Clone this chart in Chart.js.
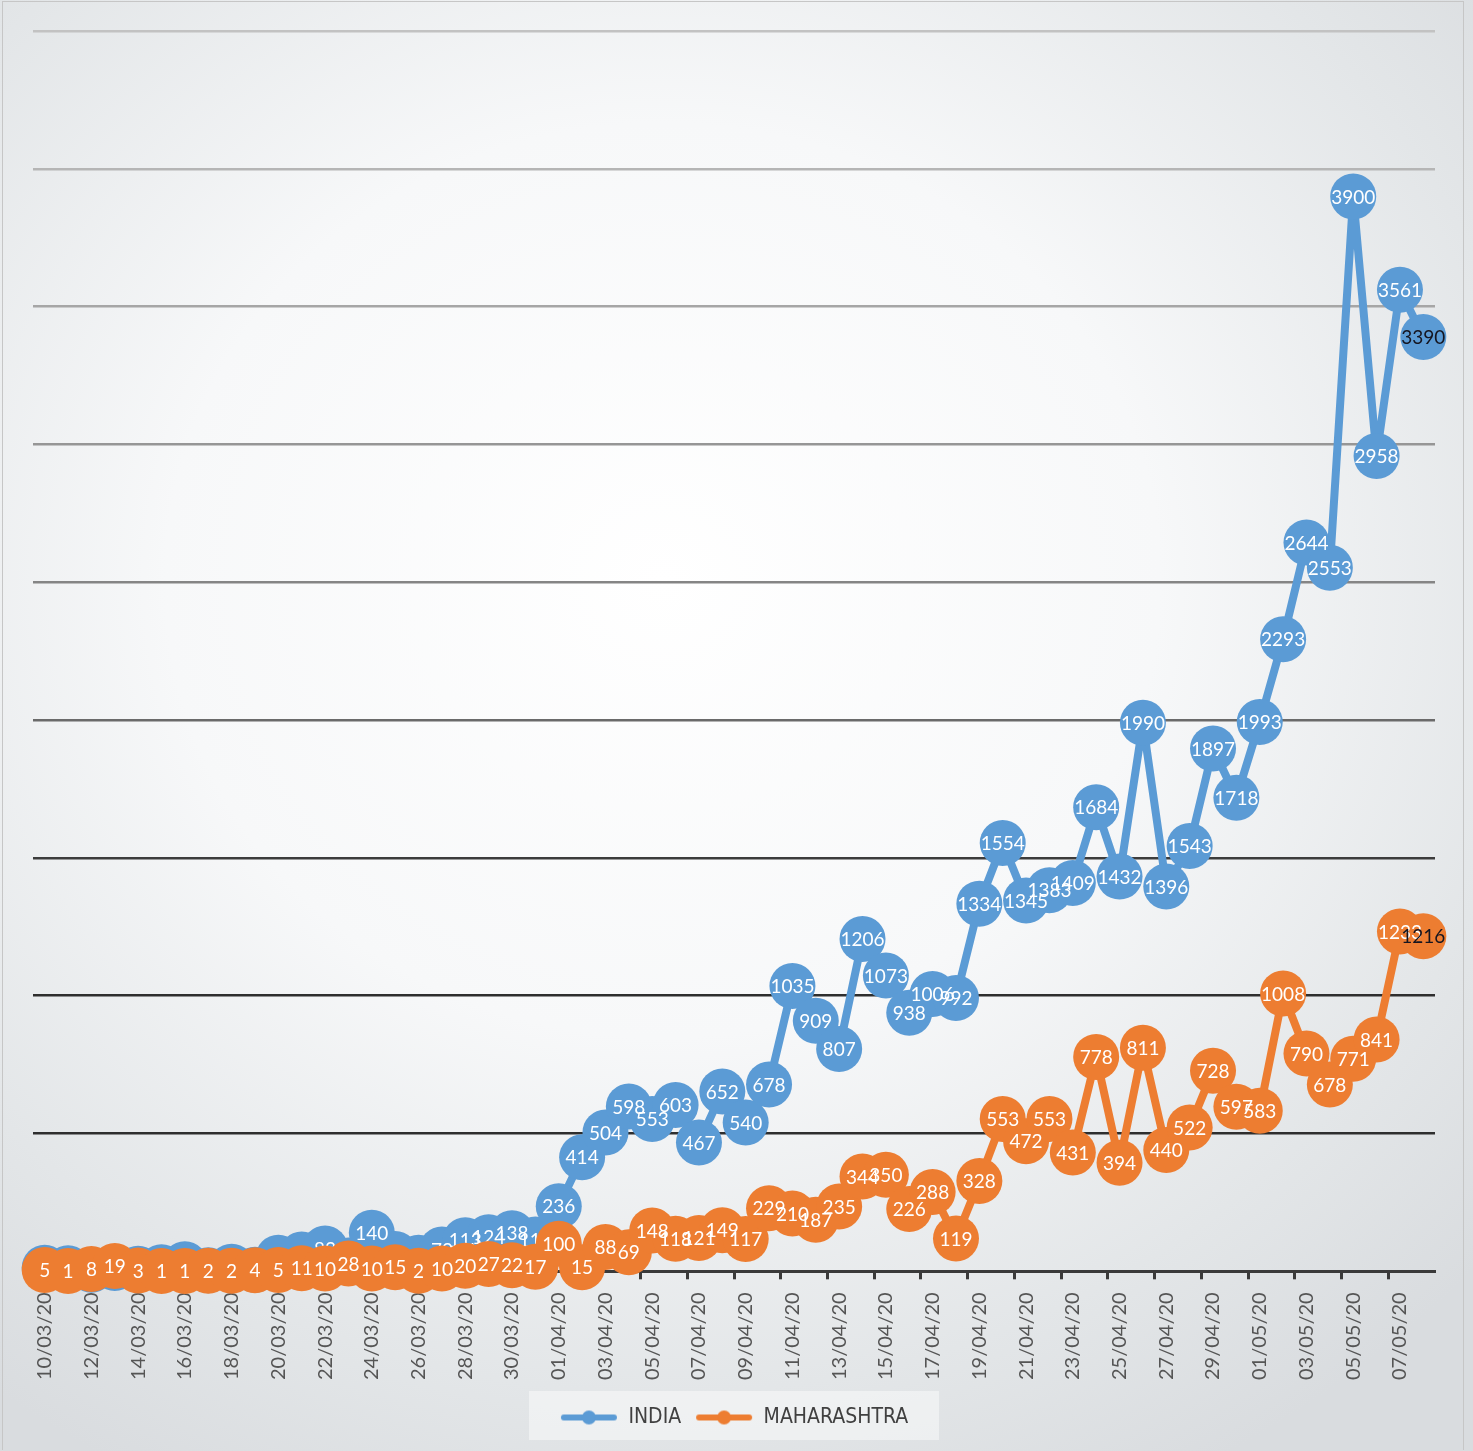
<!DOCTYPE html>
<html>
<head>
<meta charset="utf-8">
<script src="https://cdn.jsdelivr.net/npm/chart.js@4.4.0/dist/chart.umd.min.js"></script>
<style>
  html, body { margin: 0; padding: 0; }
  body { width: 1473px; height: 1451px; overflow: hidden; }
  #wrap {
    position: relative; width: 1473px; height: 1451px;
    background: radial-gradient(ellipse 75% 70% at 45% 40%, #ffffff 0%, #f7f8f9 45%, #e3e6e8 80%, #d9dcdf 100%);
  }
  #rand { position: absolute; left: 2px; top: 1px; width: 1460px; height: 1448px; border: 1px solid #c6c6c6; border-bottom: none; }
  canvas { position: absolute; left: 0; top: 0; }
</style>
</head>
<body>
<div id="wrap">
  <div id="rand"></div>
  <canvas id="js--chart--cases"></canvas>
</div>
<script>
// datums (dag/maand/jaar)
const dates = [
  "10/03/20", "11/03/20", "12/03/20", "13/03/20", "14/03/20", "15/03/20", "16/03/20", "17/03/20", "18/03/20", "19/03/20",
  "20/03/20", "21/03/20", "22/03/20", "23/03/20", "24/03/20", "25/03/20", "26/03/20", "27/03/20", "28/03/20", "29/03/20",
  "30/03/20", "31/03/20", "01/04/20", "02/04/20", "03/04/20", "04/04/20", "05/04/20", "06/04/20", "07/04/20", "08/04/20",
  "09/04/20", "10/04/20", "11/04/20", "12/04/20", "13/04/20", "14/04/20", "15/04/20", "16/04/20", "17/04/20", "18/04/20",
  "19/04/20", "20/04/20", "21/04/20", "22/04/20", "23/04/20", "24/04/20", "25/04/20", "26/04/20", "27/04/20", "28/04/20",
  "29/04/20", "30/04/20", "01/05/20", "02/05/20", "03/05/20", "04/05/20", "05/05/20", "06/05/20", "07/05/20", "08/05/20"
];

// nieuwe gevallen per dag
const india = [
  13, 11, 6, 12, 9, 15, 26, 4, 17, 6,
  49, 61, 83, 39, 140, 63, 49, 79, 113, 124,
  138, 115, 236, 414, 504, 598, 553, 603, 467, 652,
  540, 678, 1035, 909, 807, 1206, 1073, 938, 1006, 992,
  1334, 1554, 1345, 1383, 1409, 1684, 1432, 1990, 1396, 1543,
  1897, 1718, 1993, 2293, 2644, 2553, 3900, 2958, 3561, 3390
];

const maharashtra = [
  5, 1, 8, 19, 3, 1, 1, 2, 2, 4,
  5, 11, 10, 28, 10, 15, 2, 10, 20, 27,
  22, 17, 100, 15, 88, 69, 148, 118, 121, 149,
  117, 229, 210, 187, 235, 344, 350, 226, 288, 119,
  328, 553, 472, 553, 431, 778, 394, 811, 440, 522,
  728, 597, 583, 1008, 790, 678, 771, 841, 1233, 1216
];

const blauw = '#5b9bd5';
const oranje = '#ed7d31';

// rasterlijnen worden donkerder naar onder toe
function gridKleur(ctx) {
  const v = ctx.tick.value;
  if (v === 0) return 'rgba(0,0,0,0)';
  if (v <= 1000) return '#2e2e2e';
  if (v <= 1500) return '#3c3c3c';
  if (v <= 2000) return '#6a6a6a';
  if (v <= 2500) return '#858585';
  if (v <= 3000) return '#969696';
  if (v <= 3500) return '#a6a6a6';
  if (v <= 4000) return '#b5b5b5';
  return '#c2c2c2';
}

// legend symbool: lijn met bolletje
function legendMarker(kleur) {
  const c = document.createElement('canvas');
  c.width = 58;
  c.height = 16;
  const g = c.getContext('2d');
  g.strokeStyle = kleur;
  g.lineWidth = 6;
  g.lineCap = 'round';
  g.beginPath();
  g.moveTo(4, 8);
  g.lineTo(54, 8);
  g.stroke();
  g.fillStyle = kleur;
  g.beginPath();
  g.arc(29, 8, 7, 0, Math.PI * 2);
  g.fill();
  return c;
}
const markers = [legendMarker(blauw), legendMarker(oranje)];

// getallen in de bolletjes
const puntLabels = {
  id: 'puntLabels',
  afterDatasetDraw(chart, args) {
    const ctx = chart.ctx;
    const ds = chart.data.datasets[args.index];
    ctx.save();
    ctx.font = '19px Lato';
    ctx.textAlign = 'center';
    ctx.textBaseline = 'middle';
    args.meta.data.forEach(function (p, i) {
      ctx.fillStyle = (i === ds.data.length - 1) ? '#151520' : '#ffffff';
      ctx.fillText(ds.data[i], p.x, p.y + 1);
    });
    ctx.restore();
  }
};

// lichte achtergrond achter de legende
const legendVak = {
  id: 'legendVak',
  beforeDraw(chart) {
    const l = chart.legend;
    if (!l) return;
    const ctx = chart.ctx;
    ctx.save();
    ctx.fillStyle = 'rgba(255,255,255,0.45)';
    ctx.fillRect(l.left + (l.width - 410) / 2, l.top - 2, 410, l.height + 4);
    ctx.restore();
  }
};

const data = {
  labels: dates,
  datasets: [
    {
      label: 'INDIA',
      data: india,
      borderColor: blauw,
      backgroundColor: blauw,
      borderWidth: 8,
      borderJoinStyle: 'round',
      pointRadius: 23,
      pointHoverRadius: 23,
      pointBorderWidth: 0,
      tension: 0,
      clip: false,
      order: 2
    },
    {
      label: 'MAHARASHTRA',
      data: maharashtra,
      borderColor: oranje,
      backgroundColor: oranje,
      borderWidth: 8,
      borderJoinStyle: 'round',
      pointRadius: 23,
      pointHoverRadius: 23,
      pointBorderWidth: 0,
      tension: 0,
      clip: false,
      order: 1
    }
  ]
};

const config = {
  type: 'line',
  data: data,
  options: {
    responsive: true,
    maintainAspectRatio: false,
    animation: false,
    layout: { padding: { left: 33, right: 38, top: 31, bottom: 13 } },
    scales: {
      x: {
        offset: true,
        grid: {
          display: true,
          drawOnChartArea: false,
          drawTicks: true,
          offset: true,
          tickLength: 8,
          tickWidth: 3,
          tickColor: function (ctx) { return ctx.index % 2 === 0 ? '#3a3a3a' : 'rgba(0,0,0,0)'; }
        },
        border: { display: true, color: '#3a3a3a', width: 3 },
        ticks: {
          autoSkip: false,
          minRotation: 90,
          maxRotation: 90,
          padding: 13,
          color: '#555555',
          font: { family: 'Lato', size: 20 },
          callback: function (value, index) { return index % 2 === 0 ? dates[index] : ''; }
        }
      },
      y: {
        min: 0,
        max: 4500,
        ticks: { display: false, stepSize: 500 },
        border: { display: false },
        grid: { color: gridKleur, lineWidth: 2.5, drawTicks: false }
      }
    },
    plugins: {
      tooltip: { enabled: false },
      legend: {
        position: 'bottom',
        labels: {
          usePointStyle: true,
          pointStyleWidth: 58,
          boxHeight: 16,
          padding: 14,
          color: '#404040',
          font: { family: "'DejaVu Sans Condensed', 'Liberation Sans', sans-serif", size: 21 },
          generateLabels: function (chart) {
            const items = Chart.defaults.plugins.legend.labels.generateLabels(chart);
            items.forEach(function (it) { it.pointStyle = markers[it.datasetIndex]; });
            return items;
          },
          sort: function (a, b) { return a.datasetIndex - b.datasetIndex; }
        }
      }
    }
  },
  plugins: [legendVak, puntLabels]
};

new Chart(document.getElementById("js--chart--cases"), config);
</script>
</body>
</html>
